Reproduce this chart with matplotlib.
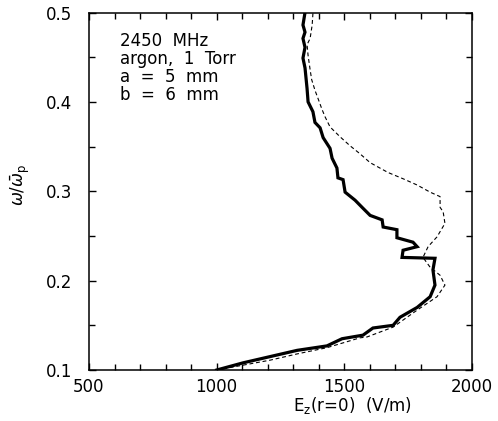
import matplotlib
matplotlib.use("Agg")
import matplotlib.pyplot as plt
from matplotlib.ticker import MultipleLocator

# thick solid curve: field on axis vs normalised frequency
solid_e = [1000, 1103, 1209, 1315, 1432, 1491, 1573, 1612, 1691, 1718, 1785, 1836,
           1855, 1847, 1855, 1726, 1730, 1785, 1769, 1706, 1706, 1652, 1648, 1601,
           1573, 1542, 1503, 1495, 1475, 1471, 1452, 1444, 1417, 1405, 1385, 1377,
           1358, 1354, 1346, 1338, 1346, 1338, 1346, 1338, 1346]
solid_w = [0.100, 0.108, 0.115, 0.122, 0.127, 0.135, 0.139, 0.147, 0.150, 0.159, 0.170, 0.182,
           0.195, 0.212, 0.225, 0.226, 0.234, 0.238, 0.243, 0.248, 0.257, 0.260, 0.268, 0.273,
           0.281, 0.290, 0.299, 0.313, 0.315, 0.326, 0.337, 0.348, 0.360, 0.371, 0.377, 0.389,
           0.400, 0.415, 0.438, 0.449, 0.461, 0.471, 0.478, 0.486, 0.500]

# thin dashed curve
dash_e = [1000, 1209, 1315, 1432, 1561, 1589, 1691, 1785, 1863, 1894, 1875, 1836,
          1808, 1828, 1863, 1894, 1887, 1875, 1875, 1836, 1785, 1730, 1671, 1601,
          1561, 1522, 1483, 1444, 1425, 1412, 1398, 1385, 1372, 1366, 1358, 1354,
          1366, 1374, 1377]
dash_w = [0.100, 0.111, 0.118, 0.125, 0.136, 0.137, 0.148, 0.167, 0.182, 0.195, 0.206, 0.215,
          0.226, 0.238, 0.249, 0.264, 0.277, 0.282, 0.294, 0.299, 0.307, 0.314, 0.321, 0.332,
          0.342, 0.351, 0.361, 0.372, 0.383, 0.392, 0.403, 0.413, 0.425, 0.436, 0.452, 0.464,
          0.471, 0.486, 0.499]

info_lines = ["2450  MHz", "argon,  1  Torr", "a  =  5  mm", "b  =  6  mm"]

plt.rcParams["font.family"] = "DejaVu Sans"
fig = plt.figure(figsize=(4.98, 4.21), dpi=100)
ax = fig.add_axes([0.1787, 0.1211, 0.7691, 0.8492])

ax.plot(solid_e, solid_w, color="black", lw=2.3, solid_joinstyle="miter")
ax.plot(dash_e, dash_w, color="black", lw=0.8, dashes=(3.5, 2.5))

ax.set_xlim(500, 2000)
ax.set_ylim(0.1, 0.5)
ax.xaxis.set_major_locator(MultipleLocator(500))
ax.xaxis.set_minor_locator(MultipleLocator(100))
ax.yaxis.set_major_locator(MultipleLocator(0.1))
ax.yaxis.set_minor_locator(MultipleLocator(0.05))
ax.tick_params(which="both", direction="in", top=True, right=True, width=1, labelsize=12)
ax.tick_params(which="major", length=5)
ax.tick_params(which="minor", length=4)
ax.tick_params(axis="x", pad=6)
ax.tick_params(axis="y", pad=12)
ax.set_yticks([0.1, 0.2, 0.3, 0.4, 0.5], ["0.1", "0.2", "0.3", "0.4", "0.5"])
for s in ax.spines.values():
    s.set_linewidth(1.1)

ax.text(0.082, 0.945, "\n".join(info_lines), transform=ax.transAxes,
        fontsize=12, va="top", ha="left", linespacing=1.0)

fig.text(352 / 498, 1 - 406 / 421, r"E$_\mathregular{z}$(r=0)  (V/m)", fontsize=12,
         ha="center", va="center")
fig.text(20 / 498, 1 - 185 / 421, r"$\omega/\bar{\omega}_\mathregular{p}$", fontsize=12,
         rotation=90, ha="center", va="center")

fig.savefig("out.png", dpi=100)
